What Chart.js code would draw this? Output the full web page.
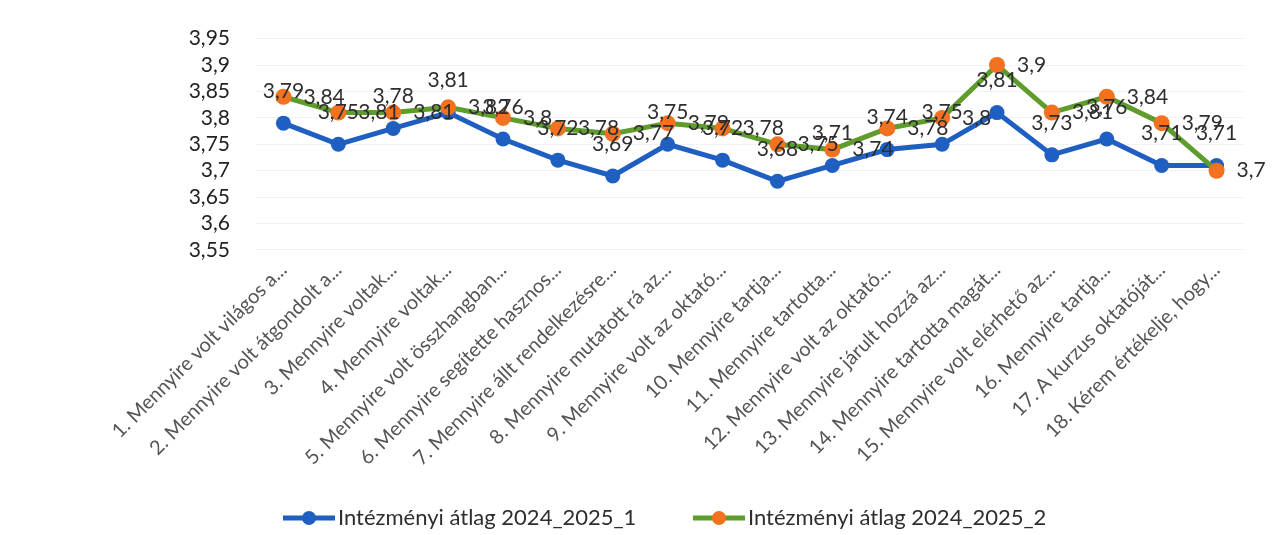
<!DOCTYPE html>
<html>
<head>
<meta charset="utf-8">
<script src="https://cdn.jsdelivr.net/npm/chart.js@4.4.1/dist/chart.umd.min.js"></script>
<style>
html,body{margin:0;padding:0;background:#fff;}
#wrap{width:1277px;height:535px;position:relative;}
</style>
</head>
<body>
<div id="wrap"><canvas id="c" width="1277" height="535"></canvas></div>
<script>
const categories = [
  "1. Mennyire volt világos a...",
  "2. Mennyire volt átgondolt a...",
  "3. Mennyire voltak...",
  "4. Mennyire voltak...",
  "5. Mennyire volt összhangban...",
  "6. Mennyire segítette hasznos...",
  "7. Mennyire állt rendelkezésre...",
  "8. Mennyire mutatott rá az...",
  "9. Mennyire volt az oktató...",
  "10. Mennyire tartja...",
  "11. Mennyire tartotta...",
  "12. Mennyire volt az oktató...",
  "13. Mennyire járult hozzá az...",
  "14. Mennyire tartotta magát...",
  "15. Mennyire volt elérhető az...",
  "16. Mennyire tartja...",
  "17. A kurzus oktatóját...",
  "18. Kérem értékelje, hogy..."
];
const seriesNames = ["Intézményi átlag 2024_2025_1", "Intézményi átlag 2024_2025_2"];
const series1 = [3.79, 3.75, 3.78, 3.81, 3.76, 3.72, 3.69, 3.75, 3.72, 3.68, 3.71, 3.74, 3.75, 3.81, 3.73, 3.76, 3.71, 3.71];
const series2 = [3.84, 3.81, 3.81, 3.82, 3.8, 3.78, 3.77, 3.79, 3.78, 3.75, 3.74, 3.78, 3.8, 3.9, 3.81, 3.84, 3.79, 3.7];
const yMin = 3.55, yMax = 3.95, yStep = 0.05;

const BLUE = '#1F5FC2';
const GREEN = '#5E9C2C';
const ORANGE = '#F4711F';
const FONT = 'Lato, "Open Sans", sans-serif';

function fmt(v){ return String(Number(v.toFixed(2))).replace('.', ','); }

const labelPlugin = {
  id: 'valueLabels',
  afterDatasetsDraw(chart){
    const ctx = chart.ctx;
    ctx.save();
    ctx.font = '21px ' + FONT;
    ctx.fillStyle = '#2e2e2e';
    ctx.textBaseline = 'middle';
    chart.data.datasets.forEach((ds, di) => {
      const meta = chart.getDatasetMeta(di);
      meta.data.forEach((pt, i) => {
        const txt = fmt(ds.data[i]);
        if (di === 0) {
          ctx.textAlign = 'center';
          ctx.fillText(txt, pt.x, pt.y - 32);
        } else {
          ctx.textAlign = 'left';
          ctx.fillText(txt, pt.x + 20, pt.y);
        }
      });
    });
    ctx.restore();
  }
};

const legendPlugin = {
  id: 'customLegend',
  afterDraw(chart){
    const ctx = chart.ctx;
    ctx.save();
    const y = 518;
    const items = [
      {x: 283, line: BLUE, dot: BLUE, text: seriesNames[0]},
      {x: 693, line: GREEN, dot: ORANGE, text: seriesNames[1]}
    ];
    items.forEach(it => {
      ctx.strokeStyle = it.line;
      ctx.lineWidth = 5;
      ctx.beginPath();
      ctx.moveTo(it.x, y);
      ctx.lineTo(it.x + 52, y);
      ctx.stroke();
      ctx.fillStyle = it.dot;
      ctx.beginPath();
      ctx.arc(it.x + 26, y, 7, 0, Math.PI * 2);
      ctx.fill();
      ctx.fillStyle = '#2e2e2e';
      ctx.font = '22px ' + FONT;
      ctx.textAlign = 'left';
      ctx.textBaseline = 'middle';
      ctx.fillText(it.text, it.x + 55, y);
    });
    ctx.restore();
  }
};

new Chart(document.getElementById('c'), {
  type: 'line',
  data: {
    labels: categories,
    datasets: [
      {
        label: seriesNames[0],
        data: series1,
        borderColor: BLUE,
        backgroundColor: BLUE,
        borderWidth: 5,
        pointRadius: 7.5,
        pointBackgroundColor: BLUE,
        pointBorderColor: BLUE,
        pointBorderWidth: 0,
        tension: 0,
        order: 1
      },
      {
        label: seriesNames[1],
        data: series2,
        borderColor: GREEN,
        backgroundColor: ORANGE,
        borderWidth: 5,
        pointRadius: 8,
        pointBackgroundColor: ORANGE,
        pointBorderColor: ORANGE,
        pointBorderWidth: 0,
        tension: 0,
        order: 0
      }
    ]
  },
  options: {
    responsive: false,
    animation: false,
    layout: { padding: { left: 0, right: 33, top: 38, bottom: 0 } },
    plugins: {
      legend: { display: false },
      tooltip: { enabled: false }
    },
    scales: {
      x: {
        offset: true,
        grid: { display: false, drawTicks: false },
        border: { display: false },
        ticks: {
          autoSkip: false,
          minRotation: 45,
          maxRotation: 45,
          padding: 8,
          color: '#555',
          font: { family: FONT, size: 20 }
        },
        afterFit(scale){ scale.height = 285; }
      },
      y: {
        min: yMin,
        max: yMax,
        grid: { color: '#f3f3f3', drawTicks: false },
        border: { display: false },
        ticks: {
          stepSize: yStep,
          autoSkip: false,
          padding: 26,
          color: '#222',
          font: { family: FONT, size: 21 },
          callback: (v) => fmt(v)
        },
        afterFit(scale){ scale.width = 256; }
      }
    }
  },
  plugins: [labelPlugin, legendPlugin]
});
</script>
</body>
</html>
